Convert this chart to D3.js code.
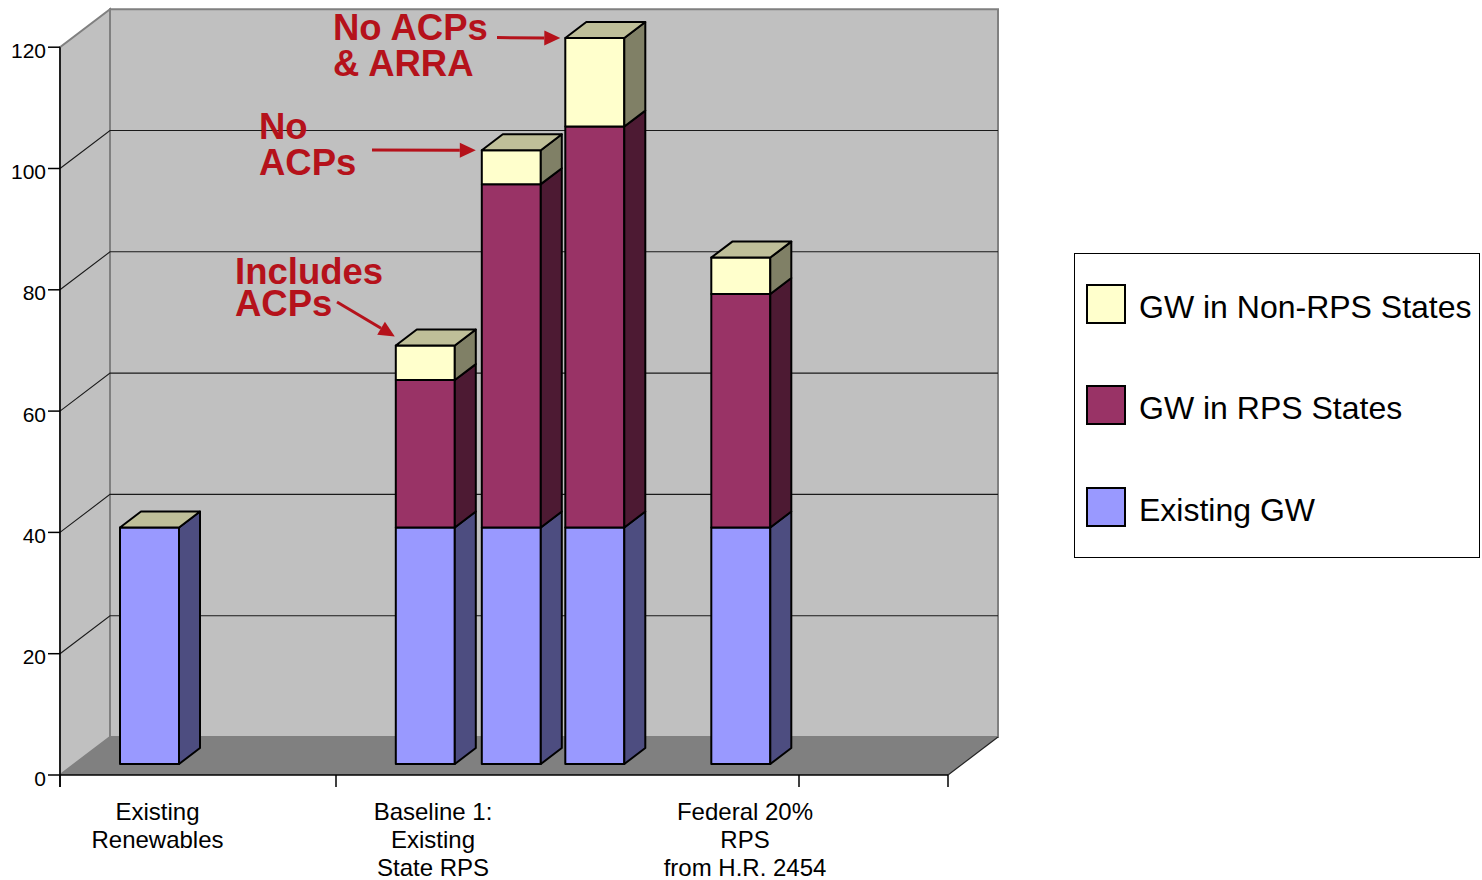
<!DOCTYPE html>
<html>
<head>
<meta charset="utf-8">
<script src="https://cdn.jsdelivr.net/npm/d3@7"></script>
<style>
  body { margin: 0; background: #ffffff; }
  svg { display: block; font-family: "Liberation Sans", Arial, Helvetica, sans-serif; }
</style>
</head>
<body>
<svg id="chart" width="1482" height="880"></svg>
<script>
// ---- Data (GW) ----
const barNames   = ["Existing Renewables", "Includes ACPs", "No ACPs", "No ACPs & ARRA", "Federal 20% RPS"];
const existingGW = [39, 39, 39, 39, 39];
const rpsGW      = [0, 24.3, 56.6, 66.1, 38.5];
const nonRpsGW   = [0, 5.7, 5.6, 14.6, 6.0];
const seriesNames = ["GW in Non-RPS States", "GW in RPS States", "Existing GW"];
const yTicks = [0, 20, 40, 60, 80, 100, 120];
const categoryLines = [
  ["Existing", "Renewables"],
  ["Baseline 1:", "Existing", "State RPS"],
  ["Federal 20%", "RPS", "from H.R. 2454"]
];
const callouts = [
  { lines: ["No ACPs", "& ARRA"], bar: 3 },
  { lines: ["No", "ACPs"], bar: 2 },
  { lines: ["Includes", "ACPs"], bar: 1 }
];

// ---- Layout ----
const svg = d3.select("#chart");
const floorW = 888;
const x = d3.scaleLinear().domain([0, floorW]).range([60, 60 + floorW]);
const y = d3.scaleLinear().domain([0, 120]).range([775, 47.2]);
const DX = 50, DY = -38;           // oblique depth offset of the plot box
const zF = 0.29, zB = 0.71;        // bar front / back depth fractions
const barCenters = [75, 350.8, 436.8, 520.3, 666.3];   // along the floor
const barHalf = 29.5;
const categoryTicks = [0, 276, 739, 888];
const categoryCenters = [157.5, 433, 745];

const colors = {
  wall: "#c0c0c0", floor: "#808080", edge: "#808080",
  existing: "#9999ff", rps: "#993366", nonRps: "#ffffcc",
  red: "#b5121b"
};
const shade = (c, k) => { const r = d3.rgb(c); return d3.rgb(r.r * k, r.g * k, r.b * k).formatHex(); };

const P = (px, v, z) => [px + DX * z, y(v) + DY * z];
const poly = pts => "M" + pts.map(p => p.join(",")).join("L") + "Z";

// ---- Walls and floor ----
const x0 = x(0), x1 = x(floorW);
svg.append("path").attr("d", poly([P(x0, 0, 1), P(x1, 0, 1), P(x1, 120, 1), P(x0, 120, 1)]))
  .attr("fill", colors.wall).attr("stroke", colors.edge).attr("stroke-width", 2);
svg.append("path").attr("d", poly([P(x0, 0, 0), P(x0, 120, 0), P(x0, 120, 1), P(x0, 0, 1)]))
  .attr("fill", colors.wall).attr("stroke", colors.edge).attr("stroke-width", 2);

// gridlines on side wall and back wall
const grid = svg.append("g").attr("stroke", "#1a1a1a").attr("stroke-width", 1.1).attr("fill", "none");
yTicks.filter(t => t > 0 && t < 120).forEach(t => {
  grid.append("path").attr("d", "M" + P(x0, t, 0) + "L" + P(x0, t, 1) + "L" + P(x1, t, 1));
});

svg.append("path").attr("d", poly([P(x0, 0, 0), P(x1, 0, 0), P(x1, 0, 1), P(x0, 0, 1)]))
  .attr("fill", colors.floor).attr("stroke", "none");
svg.append("path").attr("d", "M" + P(x1, 0, 0) + "L" + P(x1, 0, 1))
  .attr("stroke", "#222").attr("stroke-width", 1.2);

// ---- Bars ----
const barG = svg.append("g").attr("stroke", "#000").attr("stroke-width", 2).attr("stroke-linejoin", "round");
barNames.forEach((name, i) => {
  const xl = x(barCenters[i] - barHalf), xr = x(barCenters[i] + barHalf);
  const segs = [
    { v0: 0, v1: existingGW[i], c: colors.existing },
    { v0: existingGW[i], v1: existingGW[i] + rpsGW[i], c: colors.rps },
    { v0: existingGW[i] + rpsGW[i], v1: existingGW[i] + rpsGW[i] + nonRpsGW[i], c: colors.nonRps }
  ];
  segs.forEach(s => {
    if (s.v1 - s.v0 <= 0) return;
    barG.append("path").attr("d", poly([P(xl, s.v0, zF), P(xr, s.v0, zF), P(xr, s.v1, zF), P(xl, s.v1, zF)]))
      .attr("fill", s.c);
    barG.append("path").attr("d", poly([P(xr, s.v0, zF), P(xr, s.v0, zB), P(xr, s.v1, zB), P(xr, s.v1, zF)]))
      .attr("fill", shade(s.c, 0.5));
  });
  const total = segs[2].v1;
  barG.append("path").attr("d", poly([P(xl, total, zF), P(xr, total, zF), P(xr, total, zB), P(xl, total, zB)]))
    .attr("fill", shade(colors.nonRps, 0.75));
});

// ---- Axes ----
const axisG = svg.append("g").attr("stroke", "#000").attr("stroke-width", 1.5);
axisG.append("line").attr("x1", x0).attr("x2", x0).attr("y1", y(120)).attr("y2", y(0) + 12);
axisG.append("line").attr("x1", x0).attr("x2", x1).attr("y1", y(0)).attr("y2", y(0));
yTicks.forEach(t => {
  axisG.append("line").attr("x1", x0 - 12).attr("x2", x0).attr("y1", y(t)).attr("y2", y(t));
});
categoryTicks.forEach(c => {
  axisG.append("line").attr("x1", x(c)).attr("x2", x(c)).attr("y1", y(0)).attr("y2", y(0) + 12);
});

svg.append("g").selectAll("text").data(yTicks).join("text")
  .attr("x", x0 - 14).attr("y", d => y(d)).attr("dy", "0.5em")
  .attr("text-anchor", "end").attr("font-size", 21).attr("fill", "#000")
  .text(d => d);

const catG = svg.append("g").attr("font-size", 24).attr("fill", "#000").attr("text-anchor", "middle");
categoryLines.forEach((lines, i) => {
  lines.forEach((ln, j) => {
    catG.append("text").attr("x", categoryCenters[i]).attr("y", 819.5 + j * 28.3).text(ln);
  });
});

// ---- Callouts ----
const calloutLayout = [
  { tx: 333, ty: 39.5, lh: 36, from: [497, 37.6], off: [-5, 0] },
  { tx: 259, ty: 138.5, lh: 36.5, from: [372, 150], off: [-6, 0] },
  { tx: 235, ty: 283.5, lh: 32.5, from: [337, 302], off: [-1, -9] }
];
const callG = svg.append("g");
callouts.forEach((c, k) => {
  const L = calloutLayout[k];
  const i = c.bar;
  const xl = x(barCenters[i] - barHalf);
  const total = existingGW[i] + rpsGW[i] + nonRpsGW[i];
  const corner = P(xl, total, zF);
  const tip = [corner[0] + L.off[0], corner[1] + L.off[1]];
  const from = L.from;
  const ang = Math.atan2(tip[1] - from[1], tip[0] - from[0]);
  const hl = 16, hw = 7.5;
  const base = [tip[0] - hl * Math.cos(ang), tip[1] - hl * Math.sin(ang)];
  callG.append("line").attr("x1", from[0]).attr("y1", from[1]).attr("x2", base[0]).attr("y2", base[1])
    .attr("stroke", colors.red).attr("stroke-width", 3);
  callG.append("path").attr("d", poly([
    tip,
    [base[0] - hw * Math.sin(ang), base[1] + hw * Math.cos(ang)],
    [base[0] + hw * Math.sin(ang), base[1] - hw * Math.cos(ang)]
  ])).attr("fill", colors.red);
  c.lines.forEach((ln, j) => {
    callG.append("text").attr("x", L.tx).attr("y", L.ty + j * L.lh)
      .attr("font-size", 36.5).attr("font-weight", "bold").attr("fill", colors.red).text(ln);
  });
});

// ---- Legend ----
const legend = svg.append("g");
legend.append("rect").attr("x", 1074.5).attr("y", 253.5).attr("width", 405).attr("height", 304)
  .attr("fill", "#fff").attr("stroke", "#000").attr("stroke-width", 1);
const legendColors = [colors.nonRps, colors.rps, colors.existing];
const legendY = [285, 386, 488];
seriesNames.forEach((s, k) => {
  legend.append("rect").attr("x", 1087).attr("y", legendY[k]).attr("width", 38).attr("height", 38)
    .attr("fill", legendColors[k]).attr("stroke", "#000").attr("stroke-width", 2);
  legend.append("text").attr("x", 1139).attr("y", legendY[k] + 33)
    .attr("font-size", 32).attr("fill", "#000").text(s);
});
</script>
</body>
</html>
